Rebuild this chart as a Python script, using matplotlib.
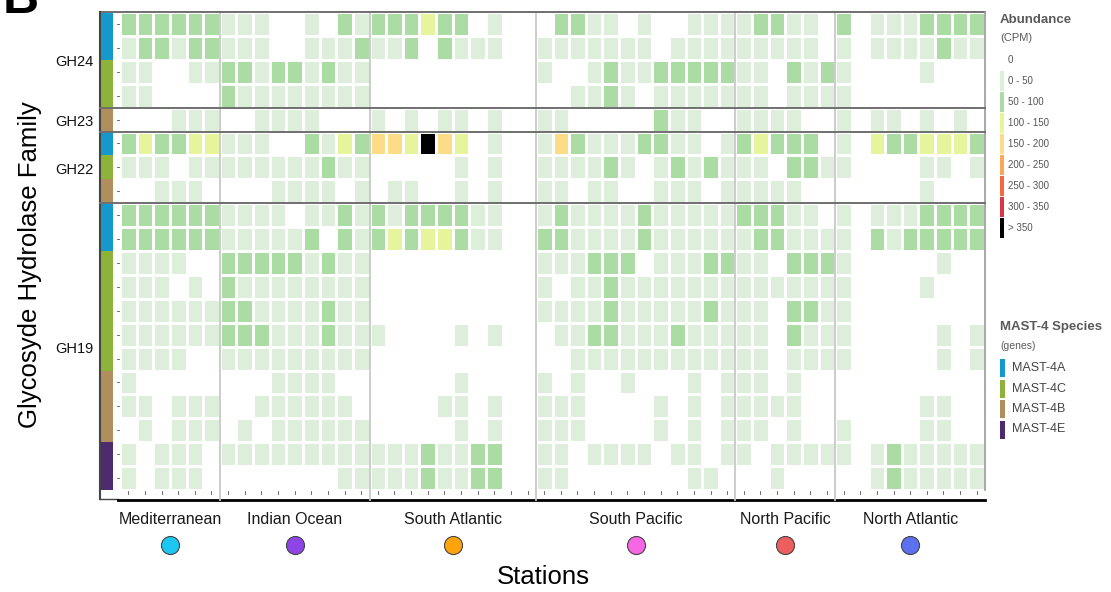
import numpy as np
import matplotlib
matplotlib.use("Agg")
import matplotlib.pyplot as plt
from matplotlib.colors import ListedColormap, BoundaryNorm
from matplotlib.patches import Rectangle

plt.rcParams['font.family'] = ['Liberation Sans', 'DejaVu Sans']

regions = ["Mediterranean", "Indian Ocean", "South Atlantic",
           "South Pacific", "North Pacific", "North Atlantic"]
region_ncols = [6, 9, 10, 12, 6, 9]
region_colors = ["#1ec7f1", "#8d45e8", "#ffa40c", "#f767e5", "#ed5e5e", "#5c70f0"]

families = ["GH24", "GH23", "GH22", "GH19"]

# abundance bin per station, one char per column, regions separated by spaces
# 0 = 0, 1 = 0-50, 2 = 50-100, 3 = 100-150, 4 = 150-200, ... 8 = >350
gh24_bins = [
    "222222 111001021 2223220100 022110100111 122110 201112222",
    "122122 111001112 1120211100 111111101111 111110 101111211",
    "110011 221221211 0000000000 100121122222 110212 100001000",
    "110000 211111111 0000000000 001121011111 110111 100000000",
]
gh23_bins = [
    "000111 001111000 1010110100 110000021100 111100 101101010",
]
gh22_bins = [
    "232233 111002132 4438430100 142111221101 232220 103223332",
    "111011 111111211 0000010100 111121012121 110221 100001101",
    "001110 000111101 0110010100 110110011101 111100 000001000",
]
gh19_bins = [
    "222222 111101121 2122221100 121111211111 222110 101112222",
    "222222 111112021 2323321100 221111211111 122111 102122222",
    "111100 222221211 0000000000 111222011122 110222 100000100",
    "111010 211111111 0000000000 101121111111 111111 100001000",
    "111111 221111211 0000000000 111121111121 110221 100000000",
    "111111 222111211 1000010100 011221112111 110211 100000101",
    "111100 111111111 0000000000 001111111111 110111 100000101",
    "100000 000111100 0000010000 101001000101 110100 000000000",
    "110111 001111110 0000110100 111000010101 111100 000001100",
    "010111 010111111 0000010100 111000010101 110100 100001100",
    "101110 111111111 1112112200 110111101101 101111 101211111",
    "101110 000000011 1112112200 110000000110 001000 001211111",
]

gh24_species = ["MAST-4A", "MAST-4A", "MAST-4C", "MAST-4C"]
gh23_species = ["MAST-4B"]
gh22_species = ["MAST-4A", "MAST-4C", "MAST-4B"]
gh19_species = ["MAST-4A", "MAST-4A", "MAST-4C", "MAST-4C", "MAST-4C", "MAST-4C",
                "MAST-4C", "MAST-4B", "MAST-4B", "MAST-4B", "MAST-4E", "MAST-4E"]

bin_labels = ["0", "0 - 50", "50 - 100", "100 - 150", "150 - 200",
              "200 - 250", "250 - 300", "300 - 350", "> 350"]
bin_colors = ["#ffffff", "#ddefdb", "#aadca4", "#e6f59c", "#fddc88",
              "#fca85b", "#f4693f", "#d7374a", "#000000"]

species_names = ["MAST-4A", "MAST-4C", "MAST-4B", "MAST-4E"]
species_colors = ["#1599cd", "#8db33b", "#b08e5e", "#4e2a6f"]

# ---- assemble matrix ----
blocks = [gh24_bins, gh23_bins, gh22_bins, gh19_bins]
species_blocks = [gh24_species, gh23_species, gh22_species, gh19_species]
rows = [r.replace(" ", "") for b in blocks for r in b]
M = np.array([[int(c) for c in r] for r in rows])
row_species = [s for b in species_blocks for s in b]
nrows, ncols = M.shape
block_sizes = [len(b) for b in blocks]

W, H = 1111, 592
fig = plt.figure(figsize=(W / 100, H / 100), dpi=100)

x0, x1, y0, y1 = 120, 985, 12, 490
ax = fig.add_axes([x0 / W, 1 - y1 / H, (x1 - x0) / W, (y1 - y0) / H])
colw = (x1 - x0) / ncols
rowh = (y1 - y0) / nrows


def xd(px):
    return (px - x0) / colw


def yd(py):
    return (py - y0) / rowh


cmap = ListedColormap(bin_colors)
norm = BoundaryNorm(np.arange(-0.5, len(bin_colors) + 0.5), len(bin_colors))
ax.pcolormesh(np.arange(ncols + 1), np.arange(nrows + 1), M, cmap=cmap, norm=norm,
              edgecolors="white", linewidth=1.0)
ax.set_xlim(0, ncols)
ax.set_ylim(nrows, 0)
ax.axis("off")

# species colour strip
sp_col = dict(zip(species_names, species_colors))
for r, s in enumerate(row_species):
    ax.add_patch(Rectangle((xd(101), r), xd(113) - xd(101), 1, color=sp_col[s],
                           lw=0, clip_on=False))

# region separators
bounds = np.cumsum(region_ncols)
for b in bounds[:-1]:
    ax.plot([b, b], [0, yd(500)], color="#c8c8c8", lw=1.3, clip_on=False, zorder=3)

# frame and family separators
ax.plot([xd(100), ncols], [0, 0], color="#6f6f6f", lw=1.4, clip_on=False, zorder=4)
ax.plot([ncols, ncols], [0, nrows], color="#9a9a9a", lw=1.2, clip_on=False, zorder=4)
ax.plot([xd(100), xd(100)], [0, yd(499)], color="#444444", lw=1.5, clip_on=False, zorder=4)
ax.plot([xd(100), xd(118)], [yd(499), yd(499)], color="#444444", lw=1.0, clip_on=False)
for b in np.cumsum(block_sizes)[:-1]:
    ax.plot([xd(100), ncols], [b, b], color="#6f6f6f", lw=1.4, clip_on=False, zorder=4)

# x axis line and small ticks
ax.plot([xd(118), ncols], [yd(500), yd(500)], color="black", lw=2.0, clip_on=False)
for c in range(ncols):
    ax.plot([c + 0.5, c + 0.5], [yd(491), yd(494)], color="#555555", lw=0.6, clip_on=False)
for r in range(nrows):
    ax.plot([xd(116.5), xd(119)], [r + 0.5, r + 0.5], color="#555555", lw=0.6, clip_on=False)

# family labels
start = 0
for fam, n in zip(families, block_sizes):
    ax.text(xd(94), start + n / 2 + 0.1, fam, ha="right", va="center",
            fontsize=10.5, color="#111111", clip_on=False)
    start += n

# region labels and markers
starts = np.concatenate([[0], bounds[:-1]])
for name, s, n, col in zip(regions, starts, region_ncols, region_colors):
    cx = s + n / 2
    ax.text(cx, yd(520), name, ha="center", va="center", fontsize=11.5,
            color="#1a1a1a", clip_on=False)
    ax.plot([cx], [yd(545)], marker="o", ms=13, mfc=col, mec="#444444", mew=0.8,
            clip_on=False)

fig.text(543 / W, 1 - 577 / H, "Stations", ha="center", va="center", fontsize=18.5)
fig.text(30 / W, 1 - 265 / H, "Glycosyde Hydrolase Family", ha="center", va="center",
         rotation=90, fontsize=18.5)
fig.text(3 / W, 1 - 13 / H, "B", ha="left", va="baseline", fontsize=36, fontweight="bold")

# legends, drawn on an overlay in pixel units
ov = fig.add_axes([0, 0, 1, 1], facecolor="none")
ov.set_xlim(0, W)
ov.set_ylim(H, 0)
ov.axis("off")

ov.text(1000, 20, "Abundance", fontsize=9.5, fontweight="bold", color="#5a5a5a", va="center")
ov.text(1000, 38, "(CPM)", fontsize=8, color="#5a5a5a", va="center")
for i, (lab, col) in enumerate(zip(bin_labels, bin_colors)):
    y = 60 + 21 * i
    ov.add_patch(Rectangle((999.5, y - 10.3), 4.5, 20.6, color=col, lw=0))
    ov.text(1008, y, lab, fontsize=7, color="#555555", va="center")

ov.text(1000, 327, "MAST-4 Species", fontsize=9.5, fontweight="bold", color="#5a5a5a", va="center")
ov.text(1000, 346, "(genes)", fontsize=7.5, color="#5a5a5a", va="center")
for i, (lab, col) in enumerate(zip(species_names, species_colors)):
    y = 368 + 20.5 * i
    ov.add_patch(Rectangle((1000, y - 9), 4.5, 18, color=col, lw=0))
    ov.text(1012, y, lab, fontsize=9, color="#444444", va="center")

fig.savefig("out.png", dpi=100)
